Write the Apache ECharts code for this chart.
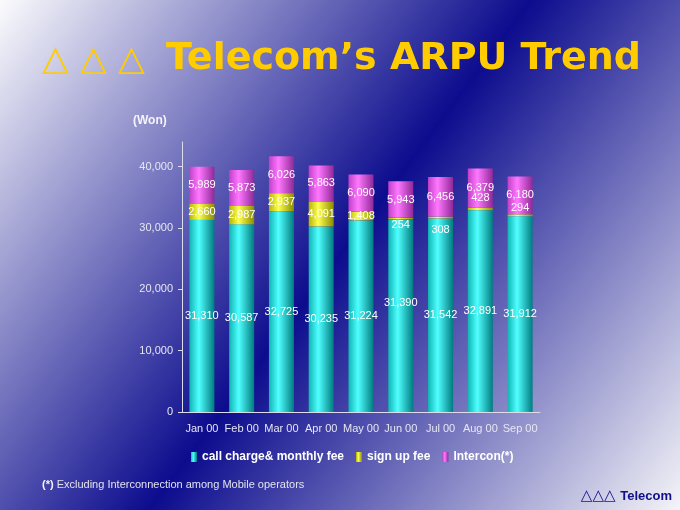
<!DOCTYPE html>
<html>
<head>
<meta charset="utf-8">
<script src="https://cdn.jsdelivr.net/npm/echarts@6/dist/echarts.min.js"></script>
<style>
  html, body { margin: 0; padding: 0; }
  #chart { width: 680px; height: 510px; }
</style>
</head>
<body>
<div id="chart"></div>
<script type="text/javascript">

	// ARPU per month (Won)
	var months = ['Jan 00', 'Feb 00', 'Mar 00', 'Apr 00', 'May 00', 'Jun 00', 'Jul 00', 'Aug 00', 'Sep 00'];
	var callCharge = [31310, 30587, 32725, 30235, 31224, 31390, 31542, 32891, 31912];
	var signUpFee = [2660, 2987, 2937, 4091, 1408, 254, 308, 428, 294];
	var intercon = [5989, 5873, 6026, 5863, 6090, 5943, 6456, 6379, 6180];
	var yTicks = [0, 10000, 20000, 30000, 40000];

	// label nudges (px) where the slide moved a label by hand
	var callNudge = [0, 0, 0, 0, 0, -13, 0, 0, 0];
	var signNudge = [0, 0, 0, 0, 0, 6, 12, -11, -7];

	function fmt(v) {
		return Number(v).toLocaleString('en-US');
	}

	function cylinder(edgeL, light, edgeR) {
		return new echarts.graphic.LinearGradient(0, 0, 1, 0, [
			{offset: 0, color: edgeL},
			{offset: 0.38, color: light},
			{offset: 1, color: edgeR}
		]);
	}

	function withNudge(values, nudge) {
		return values.map(function (v, i) {
			return nudge[i] ? {value: v, label: {offset: [0, nudge[i]]}} : v;
		});
	}

	var barLabel = {
		show: true,
		position: 'inside',
		color: '#ffffff',
		fontSize: 11,
		fontFamily: 'Liberation Sans',
		formatter: function (p) { return fmt(p.value); }
	};

	var chart = echarts.init(document.getElementById('chart'));
	chart.setOption({
		animation: false,
		backgroundColor: new echarts.graphic.LinearGradient(0, 0, 1, 1, [
			{offset: 0, color: '#fbfbfd'},
			{offset: 0.5, color: '#0c0c8e'},
			{offset: 1, color: '#f4f4f8'}
		]),
		textStyle: {fontFamily: 'Liberation Sans'},
		grid: {left: 182, right: 140, top: 142, bottom: 98},
		legend: {
			left: 186,
			top: 446,
			icon: 'rect',
			itemWidth: 6,
			itemHeight: 10,
			itemGap: 12,
			textStyle: {color: '#ffffff', fontSize: 12, fontWeight: 'bold', fontFamily: 'Liberation Sans'},
			data: ['call charge& monthly fee', 'sign up fee', 'Intercon(*)']
		},
		xAxis: {
			type: 'category',
			data: months,
			axisLine: {lineStyle: {color: '#dcdcea', width: 1}},
			axisTick: {inside: true, length: 3, lineStyle: {color: '#dcdcea'}},
			axisLabel: {color: '#e6e6f2', fontSize: 11, margin: 11, interval: 0}
		},
		yAxis: {
			type: 'value',
			min: 0,
			max: 44000,
			interval: 10000,
			splitLine: {show: false},
			axisLine: {show: true, lineStyle: {color: '#dcdcea', width: 1}},
			axisTick: {show: true, length: 4, lineStyle: {color: '#dcdcea'}, customValues: yTicks},
			axisLabel: {color: '#e6e6f2', fontSize: 11, margin: 9, customValues: yTicks, formatter: fmt}
		},
		series: [
			{
				name: 'call charge& monthly fee',
				type: 'bar',
				stack: 'arpu',
				barWidth: 25,
				itemStyle: {color: cylinder('#10b4b4', '#50ffff', '#007c80')},
				label: barLabel,
				data: withNudge(callCharge, callNudge)
			},
			{
				name: 'sign up fee',
				type: 'bar',
				stack: 'arpu',
				itemStyle: {color: cylinder('#b4b400', '#ffff50', '#8c8c00')},
				label: barLabel,
				data: withNudge(signUpFee, signNudge)
			},
			{
				name: 'Intercon(*)',
				type: 'bar',
				stack: 'arpu',
				itemStyle: {color: cylinder('#c040c8', '#ff78ff', '#902898')},
				label: barLabel,
				data: intercon
			}
		],
		graphic: [
			{
				type: 'text', left: 42, top: 43,
				style: {text: '\u25B3 \u25B3 \u25B3', fill: '#ffcc00', font: '35px "DejaVu Sans"'}
			},
			{
				type: 'text', left: 166, top: 40,
				style: {text: 'Telecom\u2019s ARPU Trend', fill: '#ffcc00', font: 'bold 38px "DejaVu Sans"'}
			},
			{
				type: 'text', left: 133, top: 115,
				style: {text: '(Won)', fill: '#f4f4fa', font: 'bold 12px "Liberation Sans"'}
			},
			{
				type: 'text', left: 42, top: 479,
				style: {
					text: '{b|(*)} Excluding Interconnection among Mobile operators',
					fill: '#e2e2ee',
					font: '11px "Liberation Sans"',
					rich: {b: {fontWeight: 'bold', fontSize: 11, fill: '#f4f4fa'}}
				}
			},
			{
				type: 'text', right: 8, top: 489,
				style: {
					text: '\u25B3\u25B3\u25B3 {b|Telecom}',
					fill: '#10108a',
					font: '15px "DejaVu Sans"',
					rich: {b: {fontWeight: 'bold', fontSize: 13, fontFamily: 'Liberation Sans', fill: '#10108a'}}
				}
			}
		]
	});

</script>
</body>
</html>
